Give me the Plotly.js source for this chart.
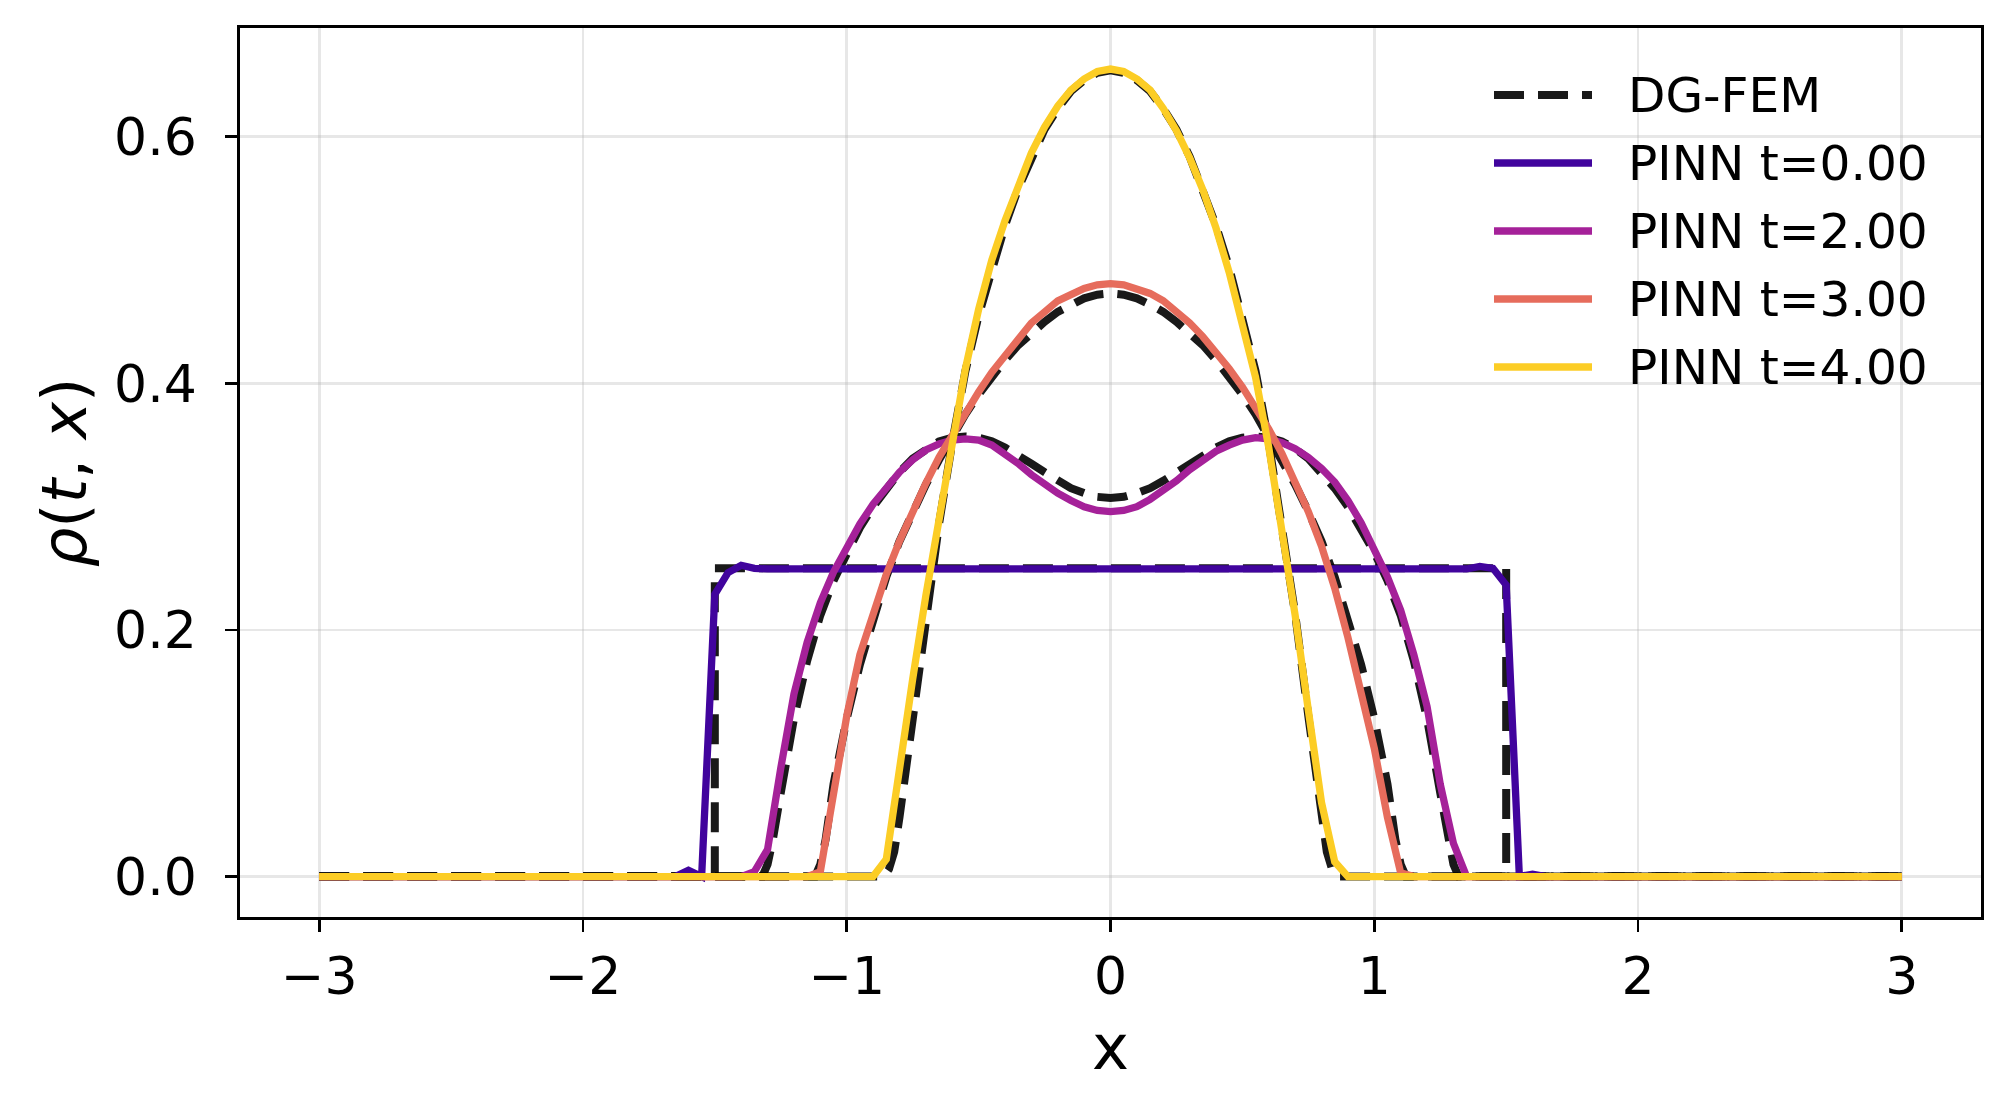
<!DOCTYPE html>
<html>
<head>
<meta charset="utf-8">
<script src="https://cdn.plot.ly/plotly-3.0.1.min.js"></script>
<style>
html, body { margin: 0; padding: 0; background: #ffffff; }
#chart { width: 2010px; height: 1116px; }
</style>
</head>
<body>
<div id="chart"></div>
<script>
// ---------------- data ----------------
const xTicks = [-3, -2, -1, 0, 1, 2, 3];
const yTicks = [0.0, 0.2, 0.4, 0.6];

// DG-FEM reference solutions
const dgX_t0 = [-3, -1.5, -1.5, 1.5, 1.5, 3];
const dgRho_t0 = [0, 0, 0.25, 0.25, 0, 0];

const dgX_t2 = [-3, -1.32, -1.30, -1.28, -1.25, -1.20, -1.15, -1.10, -1.05, -1.00, -0.95, -0.90, -0.85, -0.80, -0.75, -0.70, -0.65, -0.60, -0.55, -0.50, -0.45, -0.40, -0.35, -0.30, -0.25, -0.20, -0.15, -0.10, -0.05, 0.00,
  0.05, 0.10, 0.15, 0.20, 0.25, 0.30, 0.35, 0.40, 0.45, 0.50, 0.55, 0.60, 0.65, 0.70, 0.75, 0.80, 0.85, 0.90, 0.95, 1.00, 1.05, 1.10, 1.15, 1.20, 1.25, 1.28, 1.30, 1.32, 3];
const dgRho_t2 = [0, 0, 0.010, 0.030, 0.068, 0.128, 0.175, 0.212, 0.240, 0.263, 0.283, 0.300, 0.315, 0.328, 0.339, 0.347, 0.353, 0.356, 0.357, 0.356, 0.353, 0.348, 0.342, 0.335, 0.328, 0.321, 0.315, 0.311, 0.308, 0.307,
  0.308, 0.311, 0.315, 0.321, 0.328, 0.335, 0.342, 0.348, 0.353, 0.356, 0.357, 0.356, 0.353, 0.347, 0.339, 0.328, 0.315, 0.300, 0.283, 0.263, 0.240, 0.212, 0.175, 0.128, 0.068, 0.030, 0.010, 0, 0];

const dgX_t3 = [-3, -1.12, -1.10, -1.08, -1.05, -1.00, -0.95, -0.90, -0.85, -0.80, -0.75, -0.70, -0.65, -0.60, -0.55, -0.50, -0.45, -0.40, -0.35, -0.30, -0.25, -0.20, -0.15, -0.10, -0.05, 0.00,
  0.05, 0.10, 0.15, 0.20, 0.25, 0.30, 0.35, 0.40, 0.45, 0.50, 0.55, 0.60, 0.65, 0.70, 0.75, 0.80, 0.85, 0.90, 0.95, 1.00, 1.05, 1.08, 1.10, 1.12, 3];
const dgRho_t3 = [0, 0, 0.010, 0.030, 0.075, 0.128, 0.172, 0.210, 0.243, 0.272, 0.296, 0.318, 0.338, 0.357, 0.375, 0.391, 0.406, 0.419, 0.431, 0.441, 0.450, 0.458, 0.464, 0.469, 0.472, 0.473,
  0.472, 0.469, 0.464, 0.458, 0.450, 0.441, 0.431, 0.419, 0.406, 0.391, 0.375, 0.357, 0.338, 0.318, 0.296, 0.272, 0.243, 0.210, 0.172, 0.128, 0.075, 0.030, 0.010, 0, 0];

const dgX_t4 = [-3, -0.86, -0.84, -0.82, -0.80, -0.78, -0.75, -0.70, -0.65, -0.60, -0.55, -0.50, -0.45, -0.40, -0.35, -0.30, -0.25, -0.20, -0.15, -0.10, -0.05, 0.00,
  0.05, 0.10, 0.15, 0.20, 0.25, 0.30, 0.35, 0.40, 0.45, 0.50, 0.55, 0.60, 0.65, 0.70, 0.75, 0.78, 0.80, 0.82, 0.84, 0.86, 3];
const dgRho_t4 = [0, 0, 0.006, 0.020, 0.048, 0.080, 0.130, 0.213, 0.286, 0.352, 0.410, 0.455, 0.494, 0.528, 0.558, 0.584, 0.606, 0.623, 0.637, 0.646, 0.652, 0.654,
  0.652, 0.646, 0.637, 0.623, 0.606, 0.584, 0.558, 0.528, 0.494, 0.455, 0.410, 0.352, 0.286, 0.213, 0.130, 0.080, 0.048, 0.020, 0.006, 0, 0];

// PINN predictions
const pinnX_t0 = [-3, -1.65, -1.60, -1.55, -1.50, -1.45, -1.40, -1.35, -1.30, -1.20, -1.00, -0.80, -0.60, -0.40, -0.20, 0.00, 0.20, 0.40, 0.60, 0.80, 1.00, 1.20, 1.30, 1.35, 1.40, 1.45, 1.50, 1.55, 1.60, 1.65, 3];
const pinnRho_t0 = [0, 0, 0.005, 0.000, 0.229, 0.2465, 0.2525, 0.2500, 0.2495, 0.2495, 0.2497, 0.2502, 0.2503, 0.2505, 0.2505, 0.2505, 0.2507, 0.2505, 0.2502, 0.2505, 0.2502, 0.2500, 0.2495, 0.2495, 0.2515, 0.2500, 0.2365, 0.000, 0.002, 0, 0];

const pinnX_t2 = [-3, -1.40, -1.35, -1.30, -1.25, -1.20, -1.15, -1.10, -1.05, -1.00, -0.95, -0.90, -0.85, -0.80, -0.75, -0.70, -0.65, -0.60, -0.55, -0.50, -0.45, -0.40, -0.35, -0.30, -0.25, -0.20, -0.15, -0.10, -0.05, 0.00,
  0.05, 0.10, 0.15, 0.20, 0.25, 0.30, 0.35, 0.40, 0.45, 0.50, 0.55, 0.60, 0.65, 0.70, 0.75, 0.80, 0.85, 0.90, 0.95, 1.00, 1.05, 1.10, 1.15, 1.20, 1.25, 1.30, 1.35, 3];
const pinnRho_t2 = [0, 0, 0.004, 0.022, 0.088, 0.148, 0.190, 0.222, 0.247, 0.268, 0.286, 0.302, 0.316, 0.328, 0.338, 0.346, 0.351, 0.354, 0.355, 0.354, 0.350, 0.343, 0.335, 0.326, 0.318, 0.311, 0.305, 0.300, 0.297, 0.296,
  0.297, 0.300, 0.306, 0.313, 0.321, 0.330, 0.338, 0.345, 0.350, 0.354, 0.356, 0.355, 0.352, 0.347, 0.340, 0.331, 0.320, 0.305, 0.287, 0.266, 0.243, 0.216, 0.180, 0.138, 0.075, 0.027, 0.000, 0];

const pinnX_t3 = [-3, -1.15, -1.10, -1.05, -1.00, -0.95, -0.90, -0.85, -0.80, -0.75, -0.70, -0.65, -0.60, -0.55, -0.50, -0.45, -0.40, -0.35, -0.30, -0.25, -0.20, -0.15, -0.10, -0.05, 0.00,
  0.05, 0.10, 0.15, 0.20, 0.25, 0.30, 0.35, 0.40, 0.45, 0.50, 0.55, 0.60, 0.65, 0.70, 0.75, 0.80, 0.85, 0.90, 0.95, 1.00, 1.05, 1.10, 1.15, 3];
const pinnRho_t3 = [0, 0, 0.004, 0.063, 0.130, 0.180, 0.213, 0.245, 0.272, 0.297, 0.319, 0.340, 0.358, 0.375, 0.393, 0.409, 0.423, 0.436, 0.449, 0.458, 0.467, 0.472, 0.477, 0.480, 0.481,
  0.480, 0.477, 0.473, 0.467, 0.458, 0.449, 0.438, 0.426, 0.412, 0.397, 0.381, 0.363, 0.343, 0.321, 0.296, 0.268, 0.234, 0.194, 0.150, 0.104, 0.048, 0.003, 0, 0];

const pinnX_t4 = [-3, -0.90, -0.85, -0.80, -0.75, -0.70, -0.65, -0.60, -0.55, -0.50, -0.45, -0.40, -0.35, -0.30, -0.25, -0.20, -0.15, -0.10, -0.05, 0.00,
  0.05, 0.10, 0.15, 0.20, 0.25, 0.30, 0.35, 0.40, 0.45, 0.50, 0.55, 0.60, 0.65, 0.70, 0.75, 0.80, 0.85, 0.90, 3];
const pinnRho_t4 = [0, 0, 0.014, 0.090, 0.160, 0.228, 0.292, 0.352, 0.412, 0.460, 0.500, 0.532, 0.561, 0.587, 0.608, 0.625, 0.638, 0.647, 0.653, 0.655,
  0.653, 0.647, 0.638, 0.623, 0.605, 0.583, 0.557, 0.526, 0.490, 0.450, 0.405, 0.348, 0.284, 0.212, 0.135, 0.060, 0.012, 0, 0];

const legendLabels = ["DG-FEM", "PINN t=0.00", "PINN t=2.00", "PINN t=3.00", "PINN t=4.00"];
const pinnColors = ["#41049d", "#a52199", "#e66c5c", "#fccd25"];
const dgColor = "rgba(0,0,0,0.9)";

// ---------------- styling ----------------
const W = 2010, H = 1116;
const M = {l: 240, r: 29, t: 28, b: 199};
const PW = W - M.l - M.r, PH = H - M.t - M.b;
const LW = 7.3;          // PINN line width (px)
const DGLW = 8.0;        // DG-FEM line width (px)
const DGDASH = "30px,14px";
const FONT = "DejaVu Sans, Liberation Sans, sans-serif";

const traces = [];
[[dgX_t0, dgRho_t0], [dgX_t2, dgRho_t2], [dgX_t3, dgRho_t3], [dgX_t4, dgRho_t4]].forEach(function (d, i) {
  traces.push({
    type: "scatter", mode: "lines", x: d[0], y: d[1], name: legendLabels[0],
    showlegend: false, hoverinfo: "skip",
    line: {color: dgColor, width: DGLW, dash: DGDASH}
  });
});
[[pinnX_t0, pinnRho_t0], [pinnX_t2, pinnRho_t2], [pinnX_t3, pinnRho_t3], [pinnX_t4, pinnRho_t4]].forEach(function (d, i) {
  traces.push({
    type: "scatter", mode: "lines", x: d[0], y: d[1], name: legendLabels[i + 1],
    showlegend: false, hoverinfo: "skip",
    line: {color: pinnColors[i], width: LW}
  });
});

// custom legend (matplotlib-like long handles)
function px2x(px) { return (px - M.l) / PW; }
function py2y(py) { return (M.t + PH - py) / PH; }
const legRowsPy = [95, 163, 231, 299, 367];
const legHandle = [1494, 1592];
const legTextPx = 1626;
const shapes = [];
const annotations = [];
legendLabels.forEach(function (lab, i) {
  const yp = py2y(legRowsPy[i]);
  shapes.push({
    type: "line", xref: "paper", yref: "paper",
    x0: px2x(legHandle[0]), x1: px2x(legHandle[1]), y0: yp, y1: yp,
    line: i === 0 ? {color: dgColor, width: DGLW, dash: DGDASH} : {color: pinnColors[i - 1], width: LW}
  });
  annotations.push({
    xref: "paper", yref: "paper", x: px2x(legTextPx), y: yp,
    xanchor: "left", yanchor: "middle", showarrow: false,
    text: lab, font: {family: FONT, size: 48.6, color: "#000000"}
  });
});

const axisCommon = {
  showline: true, linecolor: "#000000", linewidth: 2.8, mirror: true,
  ticks: "outside", ticklen: 12, tickwidth: 2.8, tickcolor: "#000000",
  showgrid: true, gridcolor: "rgba(176,176,176,0.3)", gridwidth: 2.8,
  zeroline: false, automargin: false,
  tickfont: {family: FONT, size: 52, color: "#000000"}
};

const layout = {
  width: W, height: H,
  margin: {l: M.l, r: M.r, t: M.t, b: M.b, pad: 0},
  paper_bgcolor: "#ffffff", plot_bgcolor: "#ffffff",
  showlegend: false,
  xaxis: Object.assign({}, axisCommon, {
    range: [-3.3, 3.3], tickmode: "array", tickvals: xTicks,
    title: {text: "x", font: {family: FONT, size: 62.5, color: "#000000"}, standoff: 20}
  }),
  yaxis: Object.assign({}, axisCommon, {
    range: [-0.0328, 0.6883], tickmode: "array", tickvals: yTicks, tickformat: ".1f",
    ticklabelstandoff: 18,
    title: {text: "<i>ρ</i>(<i>t</i>, <i>x</i>)", font: {family: FONT, size: 62.5, color: "#000000"}, standoff: 8}
  }),
  shapes: shapes,
  annotations: annotations
};

Plotly.newPlot("chart", traces, layout, {staticPlot: true, displayModeBar: false});
</script>
</body>
</html>
